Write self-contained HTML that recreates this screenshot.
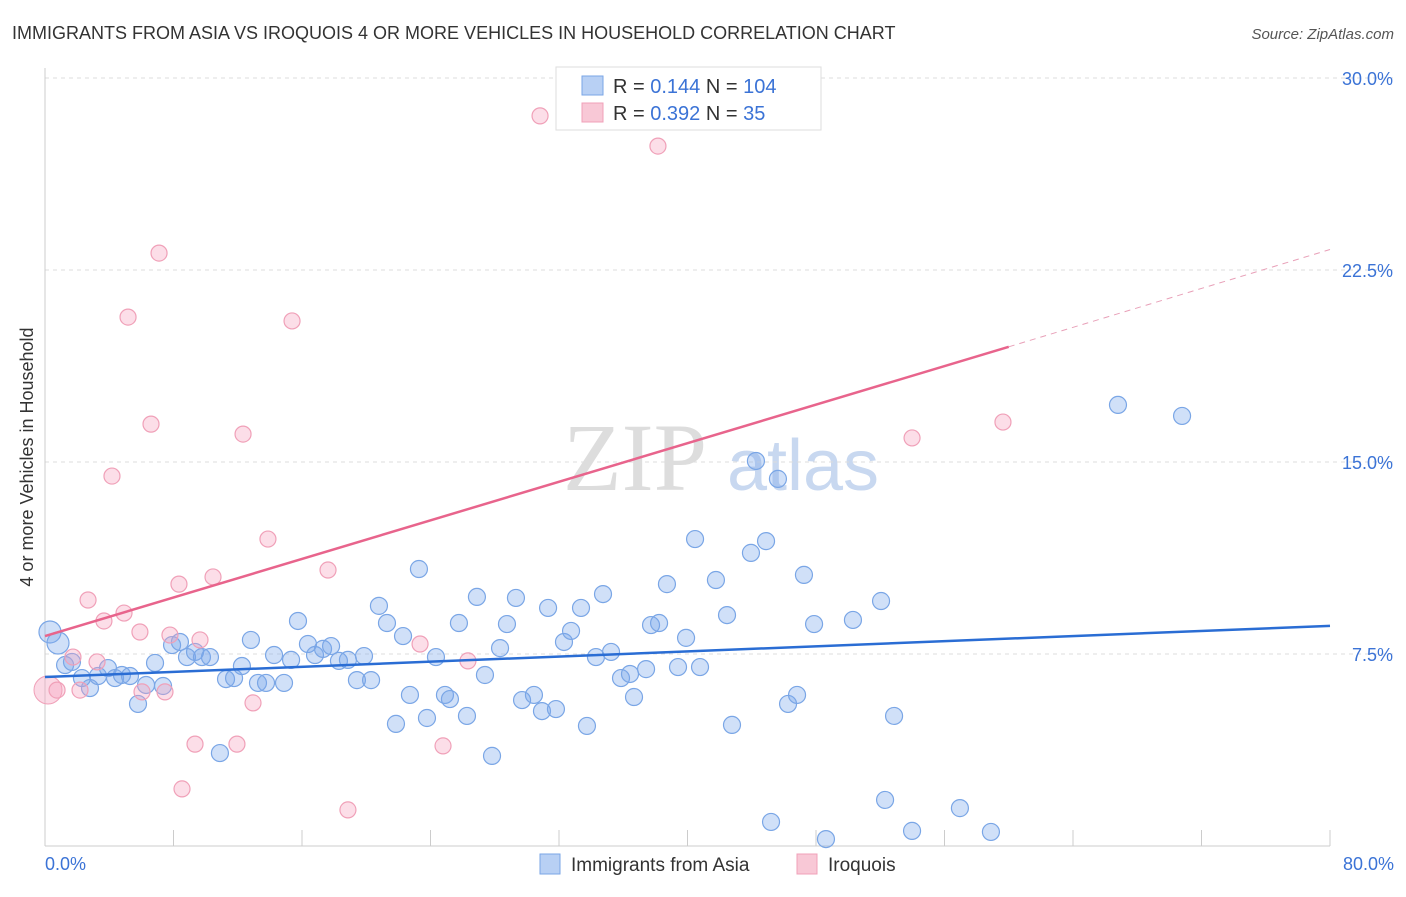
<!DOCTYPE html>
<html><head><meta charset="utf-8"><style>
body{margin:0;background:#fff;font-family:"Liberation Sans",sans-serif;}
svg text{font-family:"Liberation Sans",sans-serif;}
</style></head><body>
<svg id="chart" width="1406" height="892">
<text x="12" y="39" font-size="18" fill="#333">IMMIGRANTS FROM ASIA VS IROQUOIS 4 OR MORE VEHICLES IN HOUSEHOLD CORRELATION CHART</text>
<text x="1394" y="39" font-size="15" fill="#555" text-anchor="end" font-style="italic">Source: ZipAtlas.com</text>
<text x="33" y="457" font-size="18" fill="#333" text-anchor="middle" transform="rotate(-90 33 457)">4 or more Vehicles in Household</text>
<g><text x="635" y="490" font-size="96" fill="#ddd" text-anchor="middle" font-family="Liberation Serif" style="font-family:'Liberation Serif',serif">ZIP</text><text x="803" y="490" font-size="72" fill="#c8d8f0" text-anchor="middle">atlas</text></g>
<g id="grid"></g><g id="axes"></g><g id="pts"></g><g id="trend"></g>
<g>
<rect x="556" y="67" width="265" height="63" fill="#fff" stroke="#ddd"/>
<rect x="582" y="76" width="21" height="19" fill="#b8d0f4" stroke="#7aa6e6"/>
<text x="613" y="93" font-size="20" fill="#333">R = <tspan fill="#3b73d6">0.144</tspan>   N = <tspan fill="#3b73d6">104</tspan></text>
<rect x="582" y="103" width="21" height="19" fill="#f8c8d6" stroke="#f0a0b8"/>
<text x="613" y="120" font-size="20" fill="#333">R = <tspan fill="#3b73d6">0.392</tspan>   N = <tspan fill="#3b73d6">  35</tspan></text>
</g>
<g>
<rect x="540" y="854" width="20" height="20" fill="#b8d0f4" stroke="#7aa6e6"/>
<text x="571" y="871" font-size="19" fill="#333">Immigrants from Asia</text>
<rect x="797" y="854" width="20" height="20" fill="#f8c8d6" stroke="#f0a0b8"/>
<text x="828" y="871" font-size="19" fill="#333">Iroquois</text>
</g>
</svg>
<script>
const xTicks=[0,80];
const yTicks=[7.5,15,22.5,30];
function px(v){return 45+v/80*1285;}
function py(v){return 846-v/7.5*192;}
function P(a){const o=[];for(let i=0;i<a.length;i+=2)o.push([(a[i]-45)/1285*80,(846-a[i+1])/192*7.5]);return o;}
const asiaX=[],asiaY=[],iroX=[],iroY=[];
P([50,632,58,643,65,665,72,662,82,678,90,688,98,676,108,668,115,678,122,675,130,676,138,704,146,685,155,663,163,686,172,645,180,642,187,657,195,652,202,657,210,657,220,753,226,679,234,678,242,666,251,640,258,683,266,683,274,655,284,683,291,660,298,621,308,644,315,655,323,649,331,646,339,661,348,660,357,680,364,656,371,680,379,606,387,623,396,724,403,636,410,695,419,569,427,718,436,657,445,695,450,699,459,623,467,716,477,597,485,675,492,756,500,648,507,624,516,598,522,700,534,695,542,711,548,608,556,709,564,642,571,631,581,608,587,726,596,657,603,594,611,652,621,678,630,674,634,697,646,669,651,625,659,623,667,584,678,667,686,638,695,539,700,667,716,580,727,615,732,725,751,553,756,461,766,541,778,479,771,822,788,704,797,695,804,575,814,624,826,839,853,620,881,601,885,800,894,716,912,831,960,808,991,832,1118,405,1182,416]).forEach(p=>{asiaX.push(+p[0].toFixed(2));asiaY.push(+p[1].toFixed(2));});
P([57,690,73,657,80,690,88,600,97,662,104,621,124,613,128,317,140,632,142,692,151,424,159,253,170,635,179,584,195,744,200,640,213,577,237,744,243,434,253,703,268,539,292,321,328,570,348,810,420,644,443,746,468,661,540,116,658,146,912,438,1003,422,112,476,182,789,165,692]).forEach(p=>{iroX.push(+p[0].toFixed(2));iroY.push(+p[1].toFixed(2));});
const asiaTrend=[[0,6.6],[80,8.6]];
const iroTrend=[[0,8.2],[60,19.5],[80,23.3]];
const NS="http://www.w3.org/2000/svg";
function el(t,a,parent){const e=document.createElementNS(NS,t);for(const k in a)e.setAttribute(k,a[k]);document.getElementById(parent).appendChild(e);return e;}
yTicks.forEach(v=>{
 const l=el('line',{x1:45,x2:1394,y1:py(v),y2:py(v),stroke:'#ddd','stroke-dasharray':'4,4'},'grid');
 
 
 const t=el('text',{x:1393,y:py(v)+7,'font-size':18,fill:'#3b73d6','text-anchor':'end'},'grid');t.textContent=v.toFixed(1)+'%';
 
 
});
const ax=el('line',{x1:45,x2:45,y1:68,y2:846,stroke:'#ccc'},'axes');


const bx=el('line',{x1:45,x2:1330,y1:846,y2:846,stroke:'#ccc'},'axes');


for(let i=0;i<=10;i++){const x=px(i*8);const tk=el('line',{x1:x,x2:x,y1:830,y2:846,stroke:'#ccc'},'axes');
 
 }
xTicks.forEach((v,i)=>{const t=el('text',{x:i?1394:45,y:870,'font-size':18,fill:'#3b73d6','text-anchor':i?'end':'start'},'axes');t.textContent=v.toFixed(1)+'%';
 
 });
asiaX.forEach((v,i)=>{const c=el('circle',{cx:px(v),cy:py(asiaY[i]),r:i<2?11:8.5,fill:'rgba(120,165,235,0.35)',stroke:'#7aa6e6','stroke-width':1.2},'pts');
 
 });
const big=el('circle',{cx:48,cy:690,r:14,fill:'rgba(245,160,190,0.4)',stroke:'#f0a0b8'},'pts');


iroX.forEach((v,i)=>{const c=el('circle',{cx:px(v),cy:py(iroY[i]),r:8,fill:'rgba(245,160,190,0.35)',stroke:'#f0a0b8','stroke-width':1.2},'pts');
 
 });
const bl=el('line',{x1:px(asiaTrend[0][0]),y1:py(asiaTrend[0][1]),x2:px(asiaTrend[1][0]),y2:py(asiaTrend[1][1]),stroke:'#2a6dd4','stroke-width':2.5},'trend');


const pl=el('line',{x1:px(iroTrend[0][0]),y1:py(iroTrend[0][1]),x2:px(iroTrend[1][0]),y2:py(iroTrend[1][1]),stroke:'#e8648c','stroke-width':2.5},'trend');


const pd=el('line',{x1:px(iroTrend[1][0]),y1:py(iroTrend[1][1]),x2:px(iroTrend[2][0]),y2:py(iroTrend[2][1]),stroke:'#e8a0b8','stroke-width':1,'stroke-dasharray':'6,5'},'trend');


</script>
</body></html>
